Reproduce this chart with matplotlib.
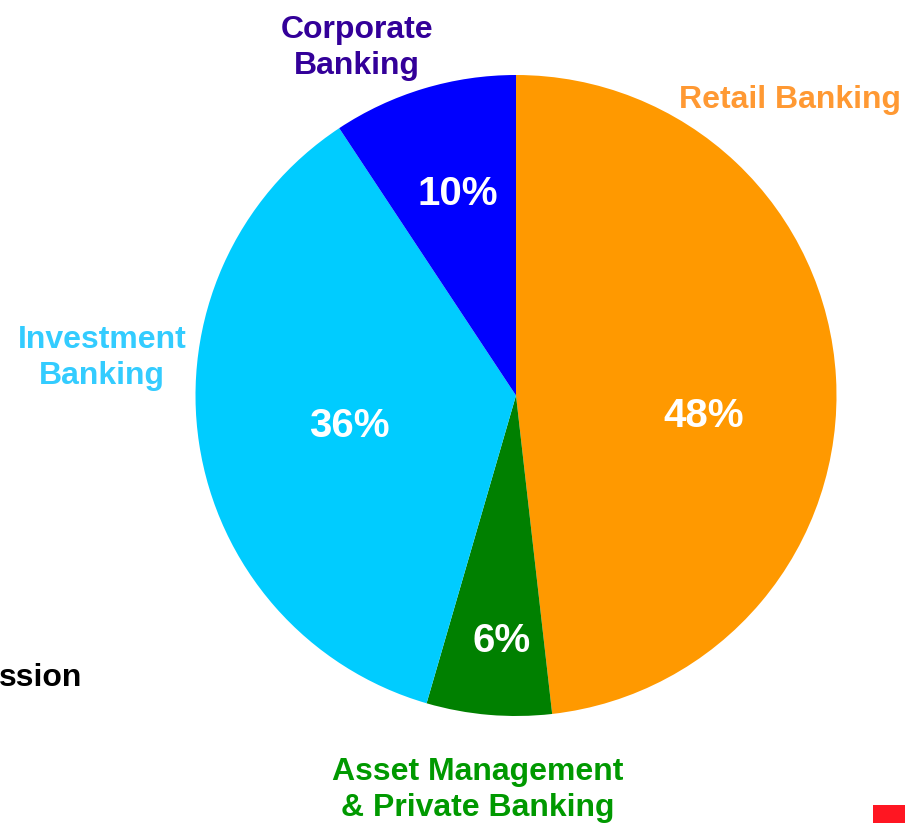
#
# 事業部門別の構成比を円グラフで描く
#
import matplotlib
matplotlib.use('Agg')
import matplotlib.pyplot as plt
from matplotlib.patches import Rectangle

matplotlib.rc('font', **{'family': 'Liberation Sans', 'weight': 'bold'})

# データ (12時の位置から時計回り)
segments = ['Retail Banking', 'Asset Management\n& Private Banking',
            'Investment\nBanking', 'Corporate\nBanking']
shares = [48.2, 6.3, 36.2, 9.3]          # 図形から読み取った比率
pct_labels = ['48%', '6%', '36%', '10%']  # 図中の表示
slice_colors = ['#FF9900', '#008000', '#00CCFF', '#0000FF']
label_colors = ['#FF9933', '#009900', '#33CCFF', '#330099']

W, H = 905, 823
fig = plt.figure(figsize=(W / 100, H / 100), dpi=100)
ax = fig.add_axes([0, 0, 1, 1])

# 中心・半径はピクセル座標 (y は下から)
cx, cy, r = 516, H - 395.5, 320.5
ax.pie(shares, colors=slice_colors, startangle=90, counterclock=False,
       center=(cx, cy), radius=r, frame=True,
       wedgeprops={'linewidth': 0})
ax.set_xlim(0, W)
ax.set_ylim(0, H)
ax.set_aspect('equal')
ax.axis('off')

# パーセント表示
pct_pos = [(704, 416), (502, 641), (349, 426), (458, 194)]
for t, (x, y) in zip(pct_labels, pct_pos):
    ax.text(x, H - y, t, color='white', fontsize=29, fontweight='bold',
            ha='center', va='center')

# 外側のラベル
label_pos = [(790, 100), (478, 790), (102, 358), (357, 48)]
for text, col, (x, y) in zip(segments, label_colors, label_pos):
    ax.text(x, H - y, text, color=col, fontsize=23, fontweight='bold',
            ha='center', va='center', linespacing=1.3)

# 切れた凡例の名残
ax.text(-1, H - 678, 'ssion', color='black', fontsize=23, fontweight='bold',
        ha='left', va='center')
ax.add_patch(Rectangle((873, 0), 40, H - 805, color='#FF1622', lw=0))

fig.savefig('out.png', dpi=100)
